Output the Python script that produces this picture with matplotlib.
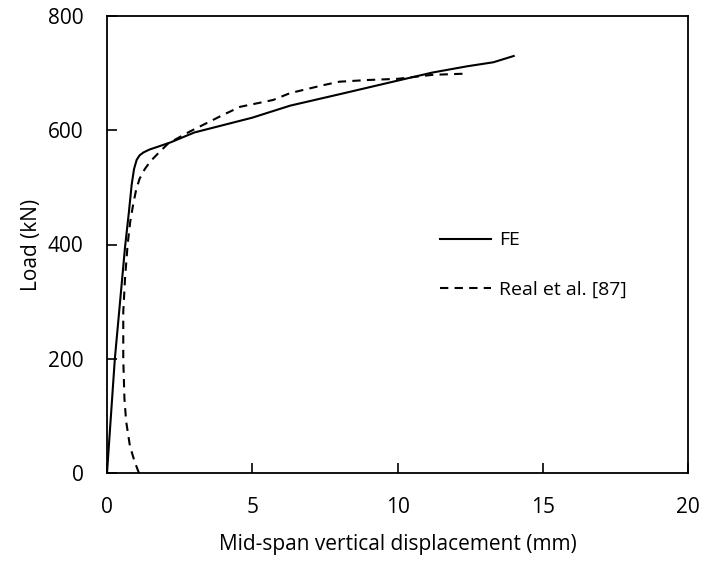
# Third-party imports
import matplotlib
matplotlib.use("Agg")
import matplotlib.pyplot as plt

# Data
fe_disp = [0.0, 0.27, 0.45, 0.62, 0.75, 0.85, 0.93, 1.02, 1.12, 1.25, 1.45,
           1.8, 2.2, 3.0, 4.0, 5.0, 6.3, 8.0, 10.1, 11.2, 12.4, 13.3, 14.0]
fe_load = [0, 200, 300, 395, 455, 505, 532, 548, 556, 561, 566,
           572, 579, 596, 609, 622, 643, 663, 688, 701, 712, 719, 730]

real_disp = [1.10, 0.95, 0.79, 0.66, 0.60, 0.56, 0.56, 0.62, 0.71, 0.80,
             0.90, 1.00, 1.12, 1.30, 1.50, 1.77, 2.11, 2.86, 4.0, 4.58,
             5.72, 6.3, 7.45, 8.0, 9.0, 10.0, 11.2, 12.3]
real_load = [0, 20, 47, 90, 130, 200, 282, 340, 400, 440,
             470, 495, 515, 532, 546, 560, 577, 598, 627, 641,
             653, 665, 679, 685, 688, 690, 697, 699]

x_ticks = [0, 5, 10, 15, 20]
y_ticks = [0, 200, 400, 600, 800]

# Plot
plt.rcParams["font.family"] = ["Open Sans", "DejaVu Sans"]
plt.rcParams["font.size"] = 15

fig = plt.figure(figsize=(7.05, 5.64), dpi=100)
ax = fig.add_axes([107 / 705, 1 - 473 / 564, 581 / 705, 457 / 564])

ax.plot(fe_disp, fe_load, "-", color="black", lw=1.5, label="FE")
ax.plot(real_disp, real_load, "--", color="black", lw=1.5,
        dashes=(4, 3), label="Real et al. [87]")

ax.set_xlim(0, 20)
ax.set_ylim(0, 800)
ax.set_xticks(x_ticks)
ax.set_yticks(y_ticks)
ax.tick_params(direction="in", length=7, width=1.2)
ax.tick_params(axis="x", pad=17)
ax.tick_params(axis="y", pad=17)
for s in ax.spines.values():
    s.set_linewidth(1.3)

ax.set_xlabel("Mid-span vertical displacement (mm)", labelpad=12)
ax.set_ylabel("Load (kN)", labelpad=4)

ax.legend(loc="upper left", bbox_to_anchor=(0.543, 0.567), frameon=False,
          handlelength=2.6, handletextpad=0.45, labelspacing=1.6,
          fontsize=14)

fig.savefig("out.png", dpi=100)
